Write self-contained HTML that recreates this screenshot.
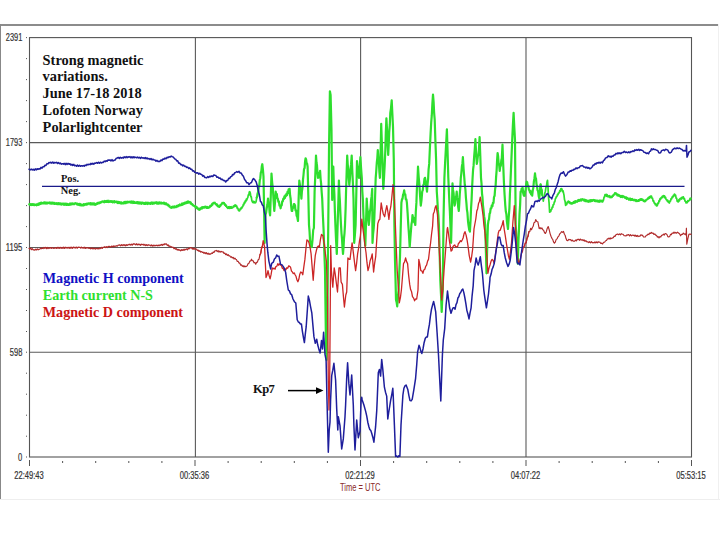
<!DOCTYPE html>
<html><head><meta charset="utf-8"><style>
html,body{margin:0;padding:0;background:#fff;}
body{width:720px;height:540px;position:relative;overflow:hidden;}
svg{position:absolute;left:0;top:0;}
.t{position:absolute;font-family:"Liberation Serif",serif;font-weight:bold;white-space:nowrap;}
</style></head><body>
<svg width="720" height="540" viewBox="0 0 720 540">
<rect x="0" y="24" width="719" height="2" fill="#8c8c8c"/>
<rect x="0" y="24" width="1" height="476" fill="#888"/>
<line x1="0" y1="499.5" x2="720" y2="499.5" stroke="#eeeeee" stroke-width="1"/>
<line x1="718.5" y1="24" x2="718.5" y2="500" stroke="#f0f0f0" stroke-width="1"/>
<g stroke="#5a5a5a" stroke-width="1.1">
<line x1="195.4" y1="37.6" x2="195.4" y2="457"/><line x1="360.6" y1="37.6" x2="360.6" y2="457"/><line x1="526.0" y1="37.6" x2="526.0" y2="457"/><line x1="29.5" y1="142.6" x2="691.5" y2="142.6"/><line x1="29.5" y1="247.5" x2="691.5" y2="247.5"/><line x1="29.5" y1="352.2" x2="691.5" y2="352.2"/>
</g>
<rect x="29.5" y="37.6" width="662" height="419.4" fill="none" stroke="#555" stroke-width="1.1"/>
<g fill="#555"><rect x="26" y="58.1" width="1" height="1"/><rect x="26" y="79.1" width="1" height="1"/><rect x="26" y="100.1" width="1" height="1"/><rect x="26" y="121.1" width="1" height="1"/><rect x="26" y="163.1" width="1" height="1"/><rect x="26" y="184.1" width="1" height="1"/><rect x="26" y="205.1" width="1" height="1"/><rect x="26" y="226.1" width="1" height="1"/><rect x="26" y="268.0" width="1" height="1"/><rect x="26" y="289.0" width="1" height="1"/><rect x="26" y="310.0" width="1" height="1"/><rect x="26" y="331.0" width="1" height="1"/><rect x="26" y="372.7" width="1" height="1"/><rect x="26" y="393.7" width="1" height="1"/><rect x="26" y="414.7" width="1" height="1"/><rect x="26" y="435.7" width="1" height="1"/><rect x="26" y="37.1" width="1" height="1"/><rect x="26" y="142.1" width="1" height="1"/><rect x="26" y="247.0" width="1" height="1"/><rect x="26" y="351.7" width="1" height="1"/><rect x="26" y="456.5" width="1" height="1"/><rect x="29.0" y="460" width="1" height="6"/><rect x="62.1" y="461" width="1" height="2"/><rect x="95.2" y="461" width="1" height="2"/><rect x="128.3" y="461" width="1" height="2"/><rect x="161.4" y="461" width="1" height="2"/><rect x="194.5" y="460" width="1" height="6"/><rect x="227.6" y="461" width="1" height="2"/><rect x="260.7" y="461" width="1" height="2"/><rect x="293.8" y="461" width="1" height="2"/><rect x="326.9" y="461" width="1" height="2"/><rect x="360.0" y="460" width="1" height="6"/><rect x="393.1" y="461" width="1" height="2"/><rect x="426.2" y="461" width="1" height="2"/><rect x="459.3" y="461" width="1" height="2"/><rect x="492.4" y="461" width="1" height="2"/><rect x="525.5" y="460" width="1" height="6"/><rect x="558.6" y="461" width="1" height="2"/><rect x="591.7" y="461" width="1" height="2"/><rect x="624.8" y="461" width="1" height="2"/><rect x="657.9" y="461" width="1" height="2"/><rect x="691.0" y="460" width="1" height="6"/></g>
<g font-family="Liberation Sans, sans-serif" font-size="10" fill="#333" stroke="#333" stroke-width="0.2">
<text x="22.3" y="41.4" text-anchor="end" textLength="16.5" lengthAdjust="spacingAndGlyphs">2391</text><text x="22.3" y="146.4" text-anchor="end" textLength="16.5" lengthAdjust="spacingAndGlyphs">1793</text><text x="22.3" y="251.4" text-anchor="end" textLength="16.5" lengthAdjust="spacingAndGlyphs">1195</text><text x="22.3" y="356.4" text-anchor="end" textLength="12.5" lengthAdjust="spacingAndGlyphs">598</text><text x="22.3" y="461.4" text-anchor="end" textLength="4.2" lengthAdjust="spacingAndGlyphs">0</text>
<text x="29" y="479" text-anchor="middle" textLength="29.5" lengthAdjust="spacingAndGlyphs">22:49:43</text><text x="194.5" y="479" text-anchor="middle" textLength="29.5" lengthAdjust="spacingAndGlyphs">00:35:36</text><text x="360" y="479" text-anchor="middle" textLength="29.5" lengthAdjust="spacingAndGlyphs">02:21:29</text><text x="525.5" y="479" text-anchor="middle" textLength="29.5" lengthAdjust="spacingAndGlyphs">04:07:22</text><text x="691" y="479" text-anchor="middle" textLength="29.5" lengthAdjust="spacingAndGlyphs">05:53:15</text>
</g>
<text x="360.3" y="491" text-anchor="middle" font-family="Liberation Sans, sans-serif" font-size="10.2" fill="#8a2a2a" textLength="40.5" lengthAdjust="spacingAndGlyphs">Time = UTC</text>
<g fill="none" stroke-linejoin="round" stroke-linecap="round">
<polyline points="29.0,204.2 29.5,204.9 30.0,203.7 30.5,205.2 31.1,203.9 31.6,205.3 32.1,203.9 32.6,205.2 33.1,203.9 33.6,205.3 34.2,204.1 34.7,205.4 35.2,204.4 35.7,205.0 36.2,204.1 36.7,205.6 37.2,204.0 37.7,205.0 38.2,203.4 38.7,205.1 39.3,203.1 39.8,204.5 40.3,202.6 40.8,204.0 41.3,202.4 41.8,203.8 42.3,203.0 42.8,203.6 43.3,202.4 43.8,203.7 44.4,202.1 44.9,203.6 45.4,202.2 45.9,203.8 46.4,202.3 46.9,203.8 47.5,202.5 48.0,203.5 48.5,202.4 49.0,203.0 49.5,202.2 50.0,203.8 50.5,202.4 51.1,203.9 51.6,202.4 52.1,203.8 52.6,202.3 53.1,204.0 53.6,202.6 54.2,204.0 54.7,202.5 55.2,204.2 55.7,203.3 56.2,204.2 56.7,202.8 57.2,204.5 57.7,203.0 58.2,204.4 58.7,202.8 59.3,204.4 59.8,203.1 60.3,204.4 60.8,203.2 61.3,204.9 61.8,203.3 62.3,204.2 62.8,203.3 63.3,204.9 63.8,203.4 64.4,205.0 64.9,203.4 65.4,204.9 65.9,203.3 66.4,205.2 66.9,203.5 67.5,205.0 68.0,203.7 68.5,205.1 69.0,204.2 69.5,205.0 70.0,203.1 70.5,205.0 71.1,203.4 71.6,204.7 72.1,203.1 72.6,204.4 73.1,203.2 73.6,204.4 74.2,203.3 74.7,204.3 75.2,202.9 75.7,203.7 76.2,203.2 76.7,204.5 77.2,203.3 77.7,205.0 78.2,203.7 78.7,205.0 79.3,203.6 79.8,205.4 80.3,203.7 80.8,205.6 81.3,204.2 81.8,205.6 82.3,205.0 82.8,205.6 83.3,203.9 83.8,205.7 84.4,204.0 84.9,205.1 85.4,203.8 85.9,204.9 86.4,203.5 86.9,204.9 87.5,203.4 88.0,204.4 88.5,203.1 89.0,203.7 89.5,203.1 90.0,204.6 90.5,202.8 91.1,204.7 91.6,203.1 92.1,204.7 92.6,203.1 93.1,204.5 93.6,203.1 94.2,205.0 94.7,203.2 95.2,205.1 95.7,204.2 96.2,204.7 96.7,203.1 97.2,204.2 97.7,202.6 98.2,203.8 98.7,202.5 99.3,203.5 99.8,202.1 100.3,203.1 100.8,201.8 101.3,202.6 101.8,201.3 102.3,201.7 102.8,201.1 103.3,202.3 103.8,201.1 104.4,202.5 104.9,200.7 105.4,202.1 105.9,200.9 106.4,202.1 106.9,200.7 107.5,202.0 108.0,200.4 108.5,202.3 109.0,201.3 109.5,202.1 110.0,200.7 110.5,202.0 111.1,201.0 111.6,202.2 112.1,201.0 112.6,202.6 113.1,201.2 113.6,202.3 114.2,200.9 114.7,202.7 115.2,201.4 115.7,202.0 116.2,201.3 116.7,202.7 117.2,201.5 117.7,203.3 118.2,201.5 118.7,203.3 119.3,201.9 119.8,203.3 120.3,202.1 120.8,203.7 121.3,202.1 121.8,203.8 122.3,203.0 122.8,203.6 123.3,202.2 123.8,203.7 124.4,201.7 124.9,203.5 125.4,201.6 125.9,203.4 126.4,201.5 126.9,202.9 127.5,201.5 128.0,202.8 128.5,201.6 129.0,202.0 129.5,201.5 130.0,202.7 130.5,201.5 131.1,203.0 131.6,201.2 132.1,203.0 132.6,201.3 133.1,203.3 133.6,201.4 134.2,203.1 134.7,201.8 135.2,203.1 135.7,202.5 136.2,203.2 136.7,202.0 137.2,203.5 137.7,201.8 138.2,203.7 138.7,202.1 139.3,203.8 139.8,202.1 140.3,203.6 140.8,202.3 141.3,204.1 141.8,202.3 142.3,203.3 142.8,202.4 143.3,204.0 143.8,202.7 144.4,204.2 144.9,202.6 145.4,204.2 145.9,202.3 146.4,204.0 146.9,202.6 147.5,204.3 148.0,202.4 148.5,203.9 149.0,203.3 149.5,203.8 150.0,202.7 150.5,204.2 151.1,202.3 151.6,203.8 152.1,202.2 152.6,204.1 153.1,202.3 153.6,203.8 154.2,202.3 154.7,203.6 155.2,202.5 155.7,203.0 156.2,202.0 156.7,203.8 157.2,202.2 157.7,204.0 158.2,202.3 158.7,203.9 159.3,202.1 159.8,203.6 160.3,202.4 160.8,203.6 161.3,202.4 161.8,203.8 162.3,203.0 162.8,203.7 163.3,202.5 163.8,203.9 164.3,202.5 164.8,204.3 165.3,203.0 165.8,204.6 166.3,203.0 166.8,204.8 167.3,204.2 167.9,205.7 168.4,204.5 169.0,206.6 169.6,205.6 170.1,207.5 170.7,207.5 171.2,208.1 171.7,206.7 172.2,207.8 172.7,206.3 173.2,207.7 173.7,206.3 174.2,207.8 174.7,206.1 175.2,207.4 175.7,206.7 176.2,207.3 176.7,205.5 177.2,207.0 177.7,205.3 178.2,206.5 178.7,204.9 179.2,205.9 179.7,204.2 180.2,205.7 180.7,204.7 181.2,205.3 181.7,203.4 182.3,205.1 182.8,203.2 183.3,204.6 183.8,202.8 184.3,204.1 184.8,202.4 185.4,203.7 185.9,202.1 186.4,203.4 186.9,201.5 187.4,203.1 188.0,201.1 188.5,202.9 189.0,201.7 189.5,202.7 190.0,201.7 190.5,203.9 191.0,202.4 191.5,204.3 192.0,203.6 192.5,205.3 193.0,204.4 193.5,206.0 194.0,205.8 194.5,206.7 195.0,205.6 195.5,207.7 196.0,206.2 196.5,208.1 197.0,207.0 197.5,209.0 198.0,207.9 198.5,209.8 199.0,209.2 199.5,210.0 200.0,208.2 200.5,209.5 201.0,207.6 201.5,208.8 202.0,206.9 202.5,208.6 203.0,206.9 203.5,207.9 204.0,207.0 204.5,207.8 205.0,206.4 205.5,207.7 206.0,206.5 206.5,208.1 207.0,206.8 207.5,208.1 208.0,206.7 208.5,208.0 209.0,207.5 209.5,207.7 210.0,205.7 210.5,206.8 211.0,205.0 211.5,206.0 212.0,203.6 212.5,205.0 213.0,202.9 213.5,203.6 214.0,202.5 214.5,203.4 215.0,202.5 215.5,204.4 216.0,203.6 216.5,205.3 217.0,204.1 217.5,206.3 218.0,205.2 218.5,206.9 219.0,206.7 219.5,207.1 220.1,204.9 220.6,206.0 221.1,204.1 221.6,204.6 222.1,202.7 222.7,203.7 223.2,202.5 223.7,203.7 224.2,202.8 224.7,205.2 225.2,204.1 225.8,206.2 226.3,205.3 226.8,207.4 227.3,207.5 227.8,208.4 228.3,206.8 228.8,208.2 229.3,206.7 229.8,208.5 230.3,206.9 230.8,208.1 231.3,206.7 231.8,208.1 232.3,207.5 232.9,207.6 233.4,206.1 234.0,206.8 234.6,205.2 235.1,206.1 235.7,205.0 236.2,206.6 236.8,206.1 237.3,208.5 237.9,208.1 238.4,210.4 239.0,210.8 239.6,210.8 240.1,208.9 240.7,209.4 241.2,207.6 241.8,208.2 242.3,206.7 242.8,206.6 243.3,204.4 243.8,204.9 244.3,202.4 244.8,203.1 245.3,200.8 245.8,201.5 246.3,199.2 246.8,200.1 247.3,198.3 247.8,197.7 248.3,194.9 248.8,195.2 249.3,192.0 249.8,191.7 250.3,193.0 250.8,196.6 251.3,196.8 251.8,200.5 252.3,201.7 252.9,202.5 253.4,201.3 254.0,202.6 254.6,201.7 255.1,202.9 255.7,202.5 256.2,201.2 256.7,197.6 257.2,196.6 257.7,193.3 258.2,191.7 258.7,186.3 259.3,185.4" stroke="#2ede2e" stroke-width="1.7"/>
<polyline points="256.7,197.6 257.2,196.6 257.7,193.3 258.2,191.7 258.7,186.3 259.3,185.4 259.8,180.0 260.3,178.2 260.8,172.7 261.3,171.5 261.8,166.3 262.3,164.2 262.9,169.3 263.5,176.7 264.1,208.9 264.6,243.0 265.5,215.0 266.1,212.8 266.7,208.3 267.4,204.5 268.0,198.6 268.5,204.3 269.1,205.4 269.6,212.4 270.1,215.3 270.8,195.4 271.5,173.6 272.2,182.8 272.9,188.9 273.6,201.0 274.3,211.0 275.0,202.4 275.7,191.7 276.2,194.2 276.8,194.0 277.3,198.1 277.8,198.6 278.4,201.7 278.9,201.5 279.5,205.6 280.0,205.6 280.6,208.3 281.1,205.3 281.7,205.3 282.2,201.4 282.8,201.4 283.3,198.6 283.9,198.9 284.4,196.4 285.0,197.9 285.5,195.1 286.1,195.8 286.6,193.6 287.1,195.2 287.6,191.5 288.1,193.2 288.6,189.4 289.1,191.0 289.6,188.9 290.1,195.5 290.6,198.4 291.2,206.4 291.7,211.0 292.2,211.0 292.8,207.0 293.3,207.8 293.9,204.1 294.4,204.2 295.0,205.2 295.5,210.5 296.1,210.3 296.6,215.6 297.2,216.7 298.0,221.0 298.6,199.9 299.3,180.6 299.8,183.9 300.4,190.8 300.9,192.6 301.4,198.6 301.9,191.3 302.4,188.3 303.0,179.6 303.5,175.0 304.0,169.3 304.6,168.0 305.1,161.1 305.6,158.3 306.1,159.4 306.6,163.3 307.1,163.7 307.6,166.7 308.3,194.8 309.0,225.0 309.5,230.8 310.0,239.8 310.5,245.0 311.1,247.2 311.8,247.0 312.5,239.8 313.2,230.0 313.9,228.0 314.6,191.7 315.3,175.0 316.0,155.6 316.5,162.5 317.0,165.5 317.5,173.1 318.0,177.8 318.5,177.5 319.1,172.9 319.6,173.8 320.1,170.8 320.6,179.0 321.1,183.4 321.7,192.5 322.2,198.6 322.9,215.7 323.6,230.0 324.3,251.0 325.0,270.0 325.8,330.0 326.5,360.0 327.3,330.0 328.0,250.0 328.5,200.9 329.0,150.0 329.9,91.3 330.6,95.0 331.5,130.0 332.2,200.0 332.8,184.4 333.3,166.7 333.8,182.7 334.4,194.9 334.9,211.8 335.4,225.0 336.1,241.0 336.8,253.9 337.3,236.8 337.9,216.1 338.4,200.1 338.9,180.6 339.4,193.0 339.9,201.4 340.5,215.2 341.0,225.0 341.5,233.5 342.0,238.6 342.5,247.6 343.0,253.9 343.5,247.7 344.0,238.1 344.5,233.3 345.0,225.0 345.6,208.9 346.1,189.5 346.6,173.8 347.2,155.6 347.7,164.0 348.2,169.0 348.8,179.0 349.3,185.0 349.9,179.0 350.5,169.3 351.1,164.2 351.7,155.6 352.3,171.1 352.9,183.1 353.5,198.6 354.2,242.8 354.9,234.8 355.6,225.0 356.3,194.5 357.0,161.0 357.5,166.2 358.0,167.8 358.5,175.1 359.0,177.8 359.7,168.2 360.4,157.0 361.1,168.6 361.8,177.8 362.3,191.1 362.9,199.8 363.4,214.4 363.9,225.0 364.6,236.3 365.3,245.6 366.0,223.1 366.7,198.6 367.2,206.8 367.7,210.8 368.2,219.7 368.8,225.0 369.3,219.9 369.9,211.7 370.5,208.5 371.1,200.0 371.6,196.4 372.2,188.9 372.5,243.0 373.1,233.8 373.7,228.5 374.3,219.0 375.0,199.8 375.7,177.8 376.2,171.8 376.8,162.4 377.3,158.1 377.8,150.0 378.3,157.8 378.9,163.1 379.4,172.0 379.9,177.8 380.6,152.0 381.2,123.9 381.8,141.2 382.3,155.5 382.8,173.7 383.3,188.9 384.0,178.0 384.7,165.0 385.3,150.9 385.8,133.1 386.4,118.3 387.0,129.1 387.6,144.2 388.2,155.0 388.7,145.3 389.2,132.4 389.8,124.7 390.3,112.8 391.0,108.1 391.7,100.3 392.4,114.5 393.0,126.7 393.8,160.0 394.4,225.0 395.0,260.0 395.5,278.9 396.0,300.0 396.6,302.1 397.2,306.4 397.9,296.6 398.6,290.0 399.3,272.1 400.0,256.7 400.7,228.7 401.4,202.8 402.0,199.2 402.5,198.8 403.1,194.5 403.6,193.7 404.2,190.3 404.7,194.3 405.3,194.3 405.8,199.3 406.4,199.3 406.9,202.8 407.6,212.9 408.3,225.0 409.0,234.8 409.7,247.0 410.4,237.5 411.0,230.0 411.5,223.9 412.0,221.6 412.5,215.0 413.1,218.5 413.6,217.6 414.2,222.3 414.7,221.5 415.3,225.0 415.8,211.8 416.4,202.9 416.9,188.6 417.5,179.2 418.0,166.7 418.7,177.1 419.4,184.7 420.1,196.3 420.8,205.6 421.5,200.1 422.2,191.7 422.8,190.2 423.3,185.1 423.9,184.2 424.4,179.0 425.0,177.8 425.5,180.4 426.0,185.9 426.5,187.2 427.0,191.7 427.6,183.7 428.1,179.2 428.6,169.3 429.2,163.9 429.9,147.7 430.6,133.6 431.2,122.6 431.8,115.2 432.4,103.2 433.0,94.7 433.6,101.9 434.1,112.3 434.7,119.7 435.4,140.8 436.1,160.0 436.8,191.7 437.3,199.1 437.9,209.9 438.4,215.5 438.9,225.0 439.6,251.5 440.3,280.0 441.0,294.5 441.7,312.0 442.2,299.4 442.8,290.0 443.5,220.0 444.4,177.8 445.1,162.7 445.8,150.0 446.4,138.8 446.9,129.4 447.6,152.6 448.3,177.8 448.8,188.7 449.4,202.5 449.9,212.3 450.4,225.0 451.1,242.8 451.8,214.0 452.5,183.3 453.0,189.9 453.6,193.2 454.1,201.5 454.6,205.6 455.1,203.5 455.6,197.5 456.2,196.3 456.7,191.7 457.2,197.7 457.7,200.2 458.2,207.2 458.8,211.0 459.3,203.5 459.8,193.4 460.3,187.7 460.8,177.8 461.3,173.6 461.9,166.3 462.4,163.7 462.9,157.2 463.6,169.0 464.3,177.8 464.8,185.0 465.4,189.3 465.9,197.5 466.4,202.8 466.9,209.5 467.4,212.7 468.0,221.0 468.5,225.0 469.2,229.8 469.9,231.7 470.6,219.4 471.1,207.5 471.6,199.4 472.1,187.4 472.6,177.8 473.1,169.5 473.6,165.4 474.2,155.8 474.7,150.0 475.4,139.2 476.1,152.8 476.8,163.9 477.3,161.2 477.9,155.8 478.4,155.0 478.9,150.0 479.6,137.1 480.3,156.0 481.0,177.8 481.5,183.3 482.0,193.3 482.5,197.7 483.0,205.6 483.5,209.6 484.1,216.2 484.6,218.9 485.1,225.0 485.8,247.8 486.5,273.3 487.2,247.6 487.9,225.0 488.5,220.3 489.0,219.6 489.6,213.6 490.1,212.8 490.7,208.3 491.3,208.4 491.8,205.3 492.4,206.4 492.9,202.9 493.5,202.8 494.0,197.1 494.6,195.8 495.1,189.2 495.6,186.1 496.1,176.9 496.6,170.6 497.1,160.0 497.6,153.0 498.1,156.1 498.6,162.8 499.2,165.5 499.7,170.8 500.2,166.5 500.8,165.8 501.3,160.3 501.8,158.3 502.5,144.7 503.2,164.3 503.9,181.9 504.6,195.0 505.3,205.6 505.8,211.3 506.4,214.3 506.9,221.3 507.4,225.0 508.0,229.0 508.7,217.1 509.4,208.3 509.9,194.2 510.4,184.2 511.0,168.6 511.5,157.0 512.2,140.0 512.9,125.0 513.6,112.8 514.3,127.4 515.0,140.0 515.7,225.0 516.2,233.1 516.8,245.7 517.3,252.9 517.8,263.6 518.5,240.0 519.0,228.7 519.5,214.7 520.1,205.1 520.6,191.7 521.1,191.8 521.6,188.6 522.1,189.9 522.6,187.5 523.2,193.1 523.9,195.6 524.7,195.8 525.2,191.3 525.7,189.6 526.2,184.2 526.7,181.7 527.2,182.2 527.8,186.4 528.3,185.7 528.9,189.8 529.4,190.0 530.0,192.5 530.5,191.0 531.1,194.3 531.6,192.9 532.2,195.6 532.8,190.1 533.3,188.1 533.9,181.2 534.4,178.7 535.0,173.3 535.5,177.8 536.0,178.5 536.5,184.2 537.0,185.8 537.5,190.1 538.1,191.1 538.7,196.2 539.2,198.3 539.9,192.5 540.6,184.4 541.1,188.6 541.7,190.1 542.2,195.0" stroke="#2ede2e" stroke-width="2.2"/>
<polyline points="539.9,192.5 540.6,184.4 541.1,188.6 541.7,190.1 542.2,195.0 542.8,197.1 543.3,201.1 543.8,197.9 544.3,196.9 544.9,192.7 545.4,191.2 545.9,187.6 546.5,186.2 547.0,182.0 547.5,180.3 548.0,187.3 548.5,197.1 549.1,203.2 549.6,212.2 550.1,210.5 550.7,211.5 551.2,209.5 551.7,209.4 552.2,207.0 552.7,207.5 553.2,204.7 553.8,204.7 554.3,201.8 554.8,201.8 555.3,199.0 555.8,198.3 556.4,196.6 556.9,196.6 557.5,194.4 558.0,194.6 558.6,192.8 559.2,192.9 559.7,190.6 560.3,191.3 560.8,188.8 561.4,188.6 561.9,189.0 562.5,191.6 563.0,190.8 563.5,192.8 564.0,195.2 564.5,199.6 565.1,201.4 565.6,205.3 566.1,203.8 566.7,204.6 567.2,202.2 567.8,202.6 568.3,201.1 568.9,202.6 569.4,201.7 570.0,203.5 570.5,202.4 571.1,203.9 571.6,202.8 572.1,203.9 572.6,202.6 573.1,203.4 573.6,201.7 574.2,203.0 574.7,201.2 575.2,202.8 575.7,200.9 576.2,202.0 576.7,201.1 577.2,202.0 577.7,200.0 578.2,201.3 578.7,199.7 579.2,201.1 579.7,199.7 580.2,200.7 580.7,199.2 581.2,200.9 581.7,199.0 582.2,199.7 582.7,198.9 583.2,200.5 583.7,199.5 584.2,200.9 584.7,199.4 585.3,201.4 585.8,199.9 586.3,201.3 586.8,200.1 587.3,201.7 587.8,201.1 588.3,202.0 588.8,200.4 589.3,201.8 589.8,200.0 590.3,201.7 590.8,199.8 591.3,201.5 591.8,199.9 592.3,201.2 592.8,199.8 593.3,200.4 593.8,199.6 594.3,201.1 594.8,200.0 595.3,201.5 595.8,200.1 596.4,201.3 596.9,200.3 597.4,201.7 597.9,200.3 598.4,202.0 598.9,201.1 599.4,202.0 599.9,200.1 600.4,201.7 601.0,200.6 601.5,201.6 602.0,200.4 602.5,202.0 603.0,201.1 603.5,200.2 604.0,197.3 604.5,197.0 605.0,194.7 605.5,195.7 606.1,194.3 606.6,196.3 607.2,194.7 607.8,196.7 608.3,196.1 608.9,196.9 609.4,195.7 610.0,197.6 610.5,196.4 611.1,197.5 611.6,196.3 612.1,197.3 612.7,195.3 613.2,196.0 613.7,194.3 614.2,194.9 614.8,192.9 615.3,193.3 615.8,192.9 616.3,194.7 616.8,193.7 617.3,195.7 617.9,194.3 618.4,196.0 618.9,194.8 619.4,196.1 619.9,195.4 620.5,197.3 621.0,195.8 621.5,197.2 622.0,195.6 622.5,197.5 623.1,195.8 623.6,196.8 624.1,196.5 624.6,198.0 625.2,197.0 625.7,198.4 626.2,197.1 626.8,199.2 627.3,197.7 627.8,198.9 628.3,198.3 628.8,200.0 629.3,198.4 629.8,199.8 630.3,198.3 630.8,200.3 631.3,198.8 631.8,200.2 632.3,198.7 632.8,200.1 633.3,199.6 633.8,200.5 634.3,199.4 634.9,200.7 635.4,199.7 635.9,201.3 636.5,199.8 637.0,201.4 637.5,201.0 638.0,201.2 638.5,199.8 639.1,201.1 639.6,199.4 640.1,200.3 640.7,198.8 641.2,200.1 641.7,198.9 642.2,200.2 642.8,199.5 643.3,201.1 643.9,200.4 644.4,201.7 645.0,200.4 645.5,201.4 646.1,199.5 646.6,200.0 647.2,198.9 647.7,199.4 648.2,197.5 648.8,198.5 649.3,196.8 649.8,198.1 650.4,196.1 650.9,197.2 651.4,196.1 652.0,198.2 652.5,198.2 653.1,201.2 653.6,200.6 654.2,203.0 654.7,202.9 655.3,204.7 655.8,203.8 656.4,205.8 656.9,205.8 657.4,205.3 658.0,202.8 658.5,203.4 659.0,200.7 659.5,201.3 660.0,198.6 660.6,199.3 661.1,197.5 661.7,197.8 662.2,196.4 662.8,197.4 663.3,195.6 663.9,196.1 664.5,195.8 665.0,198.0 665.6,197.4 666.1,199.6 666.7,199.6 667.2,201.0 667.8,200.4 668.3,202.3 668.9,201.6 669.4,203.0 670.0,200.8 670.5,201.1 671.1,198.5 671.6,198.9 672.2,196.8 672.8,197.4 673.3,195.4 673.9,196.1 674.4,194.1 675.0,194.7 675.6,195.1 676.1,198.2 676.7,198.4 677.2,201.3 677.8,201.7 678.4,201.8 678.9,199.6 679.5,200.8 680.0,198.5 680.6,198.9 681.1,197.9 681.7,199.0 682.2,197.0 682.8,197.9 683.3,196.8 683.9,199.0 684.4,198.4 685.0,201.1 685.5,201.2 686.1,203.0 686.7,201.8 687.2,202.7 687.8,200.7 688.3,201.4 688.9,200.3 689.4,200.4 690.0,198.4 690.5,199.7 691.0,198.2" stroke="#2ede2e" stroke-width="1.7"/>
<polyline points="29.0,248.3 29.8,249.0 30.7,248.2 31.5,249.7 32.3,248.7 33.2,250.0 34.0,249.7 34.8,250.2 35.7,249.1 36.5,250.0 37.3,248.8 38.2,249.9 39.0,249.2 39.8,249.3 40.6,248.1 41.5,248.7 42.3,248.0 43.1,248.6 44.0,247.4 44.8,248.4 45.6,247.3 46.5,248.7 47.3,247.4 48.1,248.6 49.0,247.6 49.8,248.4 50.7,247.5 51.5,248.4 52.3,247.6 53.2,248.4 54.0,248.0 54.8,248.3 55.6,247.5 56.4,248.5 57.2,247.3 58.0,248.5 58.8,247.3 59.6,248.4 60.5,247.3 61.3,248.4 62.1,247.4 62.9,248.5 63.7,247.1 64.5,248.4 65.3,247.2 66.1,248.2 66.9,247.3 67.7,248.2 68.5,247.3 69.3,248.3 70.1,247.2 70.9,248.3 71.7,247.2 72.5,248.3 73.4,247.0 74.2,247.9 75.0,247.2 75.8,248.2 76.6,247.0 77.4,248.2 78.2,247.0 79.0,247.5 79.8,247.2 80.7,248.2 81.5,247.0 82.3,248.1 83.2,247.4 84.0,248.3 84.8,247.2 85.6,248.5 86.5,247.6 87.3,248.0 88.1,247.6 89.0,248.5 89.8,247.8 90.6,248.9 91.5,247.9 92.3,248.9 93.1,248.0 94.0,249.0 94.8,248.0 95.6,249.1 96.5,248.2 97.3,248.8 98.1,248.2 99.0,249.0 99.8,247.9 100.7,248.6 101.5,247.3 102.3,248.5 103.2,247.2 104.0,247.5 104.8,246.7 105.7,247.7 106.5,246.6 107.3,247.6 108.2,246.3 109.0,246.7 109.8,246.3 110.7,247.3 111.5,246.1 112.3,246.9 113.2,245.8 114.0,246.9 114.9,245.9 115.7,246.3 116.5,245.7 117.3,246.2 118.2,245.0 119.0,245.3 119.8,244.8 120.7,245.8 121.5,244.7 122.3,245.7 123.2,244.5 124.0,245.7 124.8,244.6 125.7,245.8 126.5,244.7 127.3,245.5 128.2,244.4 129.0,245.0 129.8,244.2 130.7,245.2 131.5,244.2 132.3,245.1 133.2,243.7 134.0,244.2 134.8,243.8 135.7,245.0 136.5,243.7 137.3,245.0 138.2,244.0 139.0,244.9 139.8,244.2 140.6,245.3 141.5,244.2 142.3,244.7 143.1,244.2 144.0,245.3 144.8,244.3 145.7,245.6 146.5,244.6 147.3,245.6 148.2,244.6 149.0,245.3 149.8,245.0 150.7,245.9 151.5,244.9 152.3,246.2 153.2,245.0 154.0,246.1 154.9,245.1 155.7,245.8 156.5,245.2 157.4,245.9 158.2,245.0 159.0,245.8 159.9,244.8 160.7,245.4 161.5,244.4 162.4,245.3 163.2,244.2 164.0,244.9 164.9,243.7 165.7,244.2 166.5,243.9 167.3,245.6 168.2,244.8 169.0,246.4 169.8,245.9 170.7,247.0 171.5,246.7 172.3,247.5 173.1,247.2 174.0,248.8 174.8,247.9 175.7,249.3 176.5,248.7 177.3,250.1 178.2,249.3 179.0,250.3 179.8,249.8 180.7,250.8 181.5,249.7 182.3,250.5 183.2,249.3 184.0,250.5 184.9,249.2 185.7,249.7 186.5,248.8 187.4,249.8 188.2,248.2 189.0,249.0 189.9,247.7 190.7,248.0 191.5,247.5 192.4,249.1 193.2,248.1 194.0,249.4 194.9,248.3 195.7,249.2 196.5,249.1 197.3,250.6 198.2,250.0 199.0,251.4 199.8,250.7 200.7,252.1 201.5,251.5 202.3,252.5 203.1,252.0 204.0,253.5 204.8,252.4 205.7,253.7 206.5,252.7 207.3,254.1 208.2,253.2 209.0,254.5 209.9,253.7 210.7,254.2 211.5,253.0 212.4,253.4 213.2,251.9 214.0,252.5 214.9,250.9 215.7,250.8 216.5,250.4 217.3,251.6 218.2,250.7 219.0,252.1 219.8,251.1 220.7,252.1 221.5,251.4 222.3,252.0 223.1,251.9 224.0,253.4 224.8,253.0 225.7,254.6 226.5,253.8 227.3,255.4 228.2,254.7 229.0,255.8 229.8,255.8 230.7,257.2 231.5,256.7 232.3,258.0 233.2,257.3 234.0,259.0 234.9,258.1 235.7,259.2 236.5,259.6 237.3,261.5 238.2,261.4 239.0,263.1 239.8,263.1 240.7,265.2 241.5,264.8 242.3,266.3 243.1,265.7 244.0,267.0 244.8,265.9 245.7,266.7 246.5,266.3 247.3,265.6 248.2,263.5 249.0,263.2 249.8,261.1 250.7,261.0 251.5,259.2 252.3,260.7 253.2,260.7 254.0,262.8 254.9,262.5 255.7,264.2 256.5,262.4 257.4,262.1 258.2,259.8 259.0,259.2 259.9,255.1 260.7,253.3 261.5,248.5 262.4,245.9" stroke="#b02a2a" stroke-width="1.15"/>
<polyline points="259.9,255.1 260.7,253.3 261.5,248.5 262.4,245.9 263.2,240.7 264.6,247.0 266.0,277.5 267.0,275.0 268.0,270.6 269.1,275.5 270.1,278.9 271.1,274.4 272.2,267.8 273.1,268.9 274.1,268.1 275.0,269.2 275.9,266.5 276.9,266.1 277.8,263.6 278.7,265.2 279.7,263.8 280.6,265.0 281.5,265.7 282.3,268.4 283.1,268.2 284.0,270.6 284.9,268.8 285.9,269.7 286.8,267.8 287.7,268.3 288.7,265.8 289.6,266.4 290.5,267.1 291.5,271.1 292.4,272.0 293.3,273.6 294.2,272.9 295.1,274.7 296.0,276.3 297.0,280.0 297.9,281.7 298.8,279.3 299.8,274.2 300.7,272.0 301.8,272.6 302.8,274.7 303.9,266.3 304.9,259.4 305.9,248.9 306.9,240.0 307.9,240.4 309.0,242.8 310.1,247.4 311.1,253.9 312.1,266.1 313.2,280.3 314.2,266.7 315.3,255.3 316.4,250.3 317.4,247.0 318.4,245.9 319.4,247.0 320.4,239.6 321.5,234.4 322.9,235.8 323.7,241.1 324.5,245.0 325.5,254.7 326.5,262.0 327.5,300.0 328.3,380.0 329.0,410.0 329.7,380.0 330.3,300.0 330.7,245.6 331.4,270.6 332.8,287.2 334.2,267.8 335.2,273.9 336.2,282.0 337.5,292.0 339.0,267.8 340.3,267.8 341.1,282.0 342.4,284.4 343.4,296.4 344.4,307.0 345.8,295.0 346.7,292.0 347.9,258.0 349.4,259.4 350.0,259.4 351.1,250.2 352.1,242.8 353.5,253.9 354.6,263.2 355.6,270.6 356.6,263.4 357.6,253.9 358.5,248.7 359.5,240.9 360.4,235.8 361.8,219.2 362.9,228.6 363.9,235.8 364.9,245.2 366.0,252.5 367.0,262.7 368.0,270.6 369.1,266.6 370.1,260.8 371.1,258.3 372.2,253.9 373.6,272.0 374.6,263.6 375.7,256.7 376.8,239.1 377.8,223.6 378.9,220.3 379.9,219.2 381.2,202.8 382.3,209.4 383.3,214.0 384.7,216.7 385.8,210.1 386.8,205.6 387.9,211.8 388.9,219.4 389.8,211.3 390.8,206.7 391.7,198.6 393.0,184.7 394.4,198.6 395.8,235.8 397.2,270.6 398.6,290.0 399.3,302.9 400.4,297.6 401.4,290.0 402.4,277.7 403.5,263.6 404.6,261.9 405.6,258.0 406.6,261.6 407.6,263.6 408.6,275.1 409.7,284.4 410.6,289.6 411.6,291.8 412.5,296.7 413.6,298.1 414.6,300.8 415.6,299.0 416.7,299.0 418.0,290.0 418.8,259.4 419.8,264.1 420.8,270.6 421.9,270.9 422.9,273.3 423.8,270.1 424.8,269.3 425.7,266.4 426.6,265.2 427.6,261.1 428.5,259.4 429.6,250.0 430.6,242.8 431.6,233.7 432.6,226.1 433.3,213.9 434.2,211.9 435.2,207.3 436.1,205.6 437.5,215.0 438.9,242.8 440.3,270.0 441.7,300.0 442.8,290.0 444.0,270.6 445.1,256.7 446.1,243.5 447.2,228.9 447.6,227.5 448.6,234.5 449.7,242.8 451.1,251.1 452.0,250.2 453.0,246.4 453.9,245.6 454.8,244.9 455.8,247.3 456.7,246.7 457.6,246.6 458.5,243.2 459.4,242.8 460.3,240.7 461.3,241.6 462.2,240.0 463.1,238.0 464.1,233.6 465.0,231.7 466.1,235.1 467.1,240.0 468.1,246.6 469.2,255.3 470.6,262.2 471.6,256.9 472.6,249.7 474.0,228.9 474.7,225.0 475.8,219.0 476.8,211.1 477.7,208.7 478.6,203.2 479.4,201.5 480.3,197.2 481.7,205.6 483.0,215.0 483.9,225.1 484.9,232.4 485.8,242.8 486.9,256.9 487.9,273.3 488.9,268.4 490.0,265.0 491.1,261.1 492.1,259.4 493.1,260.3 494.2,263.6 495.2,255.7 496.2,249.7 497.3,240.4 498.3,233.0 499.2,230.4 500.2,230.3 501.1,227.5 502.1,225.0 503.2,220.6 504.2,229.2 505.3,235.8 506.4,243.4 507.4,249.7 508.4,255.7 509.4,259.4 510.4,252.0 511.5,242.8 512.9,222.0 514.3,205.6 515.7,230.0 517.1,256.7 518.2,261.0 519.2,263.6 520.6,258.0 521.5,253.3 522.4,251.6 523.3,247.0 524.2,246.5 525.2,243.2 526.1,242.8 527.0,238.5 528.0,236.3 528.9,231.7" stroke="#cc2626" stroke-width="1.3"/>
<polyline points="525.2,243.2 526.1,242.8 527.0,238.5 528.0,236.3 528.9,231.7 529.8,231.5 530.6,228.4 531.5,229.7 532.4,227.5 533.2,226.3 534.0,222.7 534.9,222.3 535.7,219.6 536.8,221.5 537.8,221.7 539.2,228.6 540.1,227.7 541.0,228.8 541.9,227.9 542.8,229.8 543.6,230.2 544.5,232.5 545.4,233.5 546.3,231.7 547.3,228.2 548.2,226.5 549.1,229.4 550.1,233.6 551.0,236.2 551.9,238.3 552.7,239.3 553.5,241.9 554.4,243.2 555.3,242.2 556.1,239.6 557.0,238.9 557.9,236.9 558.8,236.1 559.8,233.8 560.7,232.8 561.6,231.7 562.6,232.3 563.5,231.4 564.4,234.2 565.2,235.5 566.0,238.6 566.9,240.4 567.8,240.7 568.8,239.4 569.7,239.7 570.5,239.5 571.4,240.8 572.2,240.0 573.1,241.2 573.9,241.1 574.7,241.2 575.5,240.0 576.4,240.8 577.2,239.4 578.0,239.7 578.8,239.1 579.7,240.3 580.5,239.1 581.4,240.1 582.2,239.7 583.1,240.7 584.1,239.8 585.0,241.4 585.9,240.6 586.9,241.9 587.8,241.8 588.7,242.6 589.6,241.6 590.5,242.8 591.5,241.6 592.4,242.8 593.3,242.5 594.1,242.9 594.9,241.8 595.7,242.8 596.5,241.9 597.3,242.9 598.1,241.7 598.9,242.2 599.8,242.0 600.8,243.5 601.7,243.1 602.6,244.0 603.6,242.3 604.6,242.2 605.6,240.7 606.5,240.5 607.4,238.9 608.3,238.9 609.1,238.0 610.0,239.2 610.8,237.9 611.7,238.6 612.5,237.9 613.3,237.8 614.2,236.0 615.0,236.4 615.9,234.7 616.7,234.4 617.6,234.0 618.5,234.7 619.5,233.9 620.4,234.8 621.3,233.7 622.2,234.2 623.1,234.2 624.1,235.7 625.0,235.8 625.9,236.0 626.9,234.9 627.8,235.1 628.7,234.5 629.6,236.0 630.5,234.7 631.5,235.8 632.4,235.1 633.3,235.6 634.1,235.0 634.9,236.3 635.7,235.2 636.5,236.4 637.3,235.4 638.1,236.6 638.9,236.1 639.8,236.3 640.8,234.9 641.7,235.1 642.6,235.4 643.5,237.0 644.4,237.0 645.3,237.0 646.3,235.3 647.2,235.1 648.0,234.1 648.9,234.6 649.7,233.0 650.6,233.4 651.4,232.4 652.2,233.3 653.1,233.0 653.9,234.4 654.8,233.9 655.6,235.1 656.5,235.2 657.3,237.1 658.1,236.5 659.0,237.9 659.9,236.6 660.8,237.0 661.6,235.2 662.5,235.1 663.4,234.2 664.2,235.1 665.1,233.5 666.0,233.8 666.9,234.4 667.8,236.6 668.8,237.0 669.6,236.6 670.5,234.4 671.3,234.6 672.2,233.0 673.1,233.3 674.0,232.0 674.8,233.2 675.7,232.4 676.6,233.2 677.6,232.2 678.5,233.0 679.5,233.8 680.6,235.8 681.5,234.4 682.4,234.5 683.3,233.0 684.2,234.1 685.2,233.9 686.1,235.1 686.4,228.2 686.8,244.2 687.8,238.8 688.9,234.4 690.0,234.0 691.0,234.4" stroke="#b02a2a" stroke-width="1.15"/>
<polyline points="29.0,169.2 30.1,170.0 31.2,169.1 32.3,170.0 33.3,169.2 34.2,170.3 35.2,168.8 36.1,169.9 37.1,168.7 38.0,169.4 39.0,168.7 40.0,169.0 41.0,167.3 42.0,168.2 43.0,166.7 44.0,166.7 45.0,165.3 46.0,165.5 47.0,163.6 48.0,163.9 49.0,162.5 50.0,162.9 50.9,162.2 51.9,163.1 52.8,162.0 53.8,163.3 54.7,162.4 55.7,162.8 56.6,162.3 57.6,163.5 58.5,162.6 59.5,163.7 60.4,163.1 61.4,164.2 62.3,163.7 63.3,164.2 64.2,163.4 65.2,164.6 66.1,163.3 67.1,164.5 68.0,163.4 69.0,164.2 70.0,163.8 70.9,165.1 71.9,164.2 72.8,165.5 73.8,164.4 74.7,165.8 75.7,165.3 76.6,166.1 77.6,165.1 78.5,166.2 79.5,165.4 80.4,166.3 81.4,165.7 82.3,166.2 83.3,165.5 84.2,166.2 85.2,165.0 86.1,165.6 87.1,164.3 88.0,164.9 89.0,164.2 90.0,164.7 90.9,163.4 91.9,164.3 92.8,163.2 93.8,164.2 94.7,163.1 95.7,163.3 96.6,162.5 97.6,163.3 98.5,162.2 99.5,163.3 100.4,162.2 101.4,163.0 102.3,162.2 103.3,162.4 104.2,161.1 105.2,161.7 106.1,160.7 107.1,161.3 108.0,159.9 109.0,160.3 110.0,159.9 111.0,160.9 112.0,159.6 113.0,161.0 114.0,160.3 115.1,160.0 116.2,158.3 117.3,158.0 118.3,157.4 119.3,158.4 120.3,157.3 121.3,158.2 122.3,157.5 123.3,158.1 124.2,156.8 125.2,157.7 126.1,156.6 127.1,157.7 128.0,156.8 129.0,157.2 130.0,156.6 130.9,157.9 131.9,156.7 132.8,157.9 133.8,156.7 134.7,157.7 135.7,157.2 136.6,157.8 137.6,157.0 138.5,157.9 139.5,157.3 140.4,158.4 141.4,157.2 142.3,158.0 143.3,157.7 144.2,158.5 145.2,157.5 146.1,158.8 147.1,157.9 148.0,158.9 149.0,158.5 150.0,159.4 151.0,158.5 152.0,159.9 153.0,159.2 154.0,160.0 155.0,159.9 156.0,161.2 157.0,160.4 158.0,161.5 159.0,161.2 160.0,161.4 161.0,160.0 162.0,160.6 163.0,158.9 164.0,159.2 165.0,158.1 166.0,158.8 167.0,157.3 168.0,157.7 169.0,156.7 170.1,157.1 171.2,156.1 172.3,156.7 173.4,157.1 174.6,158.9 175.7,159.2 176.7,161.0 177.7,160.8 178.7,163.2 179.7,163.1 180.7,164.7 181.7,164.5 182.7,165.9 183.7,165.1 184.7,166.4 185.7,166.3 186.7,167.4 187.7,167.1 188.7,168.5 189.7,167.9 190.7,169.2 191.7,169.2 192.7,171.1 193.7,170.7 194.7,172.3 195.7,172.5 196.7,173.2 197.7,172.7 198.7,174.1 199.7,173.2 200.7,174.2 201.7,174.4 202.7,176.1 203.7,175.6 204.7,177.4 205.7,177.5 206.7,177.9 207.7,176.6 208.7,177.5 209.7,176.3 210.7,176.7 211.7,175.9 212.8,176.5 213.8,175.0 214.8,175.3 215.9,175.5 216.9,177.3 217.9,176.9 219.0,178.3 220.1,178.0 221.2,179.5 222.3,179.2 223.4,180.5 224.6,180.5 225.7,182.0 226.7,180.5 227.7,180.5 228.7,178.3 229.7,178.4 230.7,176.7 231.7,176.4 232.7,174.4 233.7,174.7 234.7,172.8 235.7,172.5 236.8,171.5 237.9,172.3 239.0,171.3 240.1,173.0 241.2,173.1 242.3,175.0 243.4,176.3 244.6,179.5 245.7,180.8 246.8,182.8 247.9,182.7 249.0,184.7 250.2,183.1 251.5,182.5 252.5,180.0 253.5,178.5 254.8,179.8 256.2,182.0 257.2,185.5 258.3,190.3 259.4,195.0 260.4,201.4 261.3,202.1 262.3,205.0 263.2,205.6 264.2,211.2 265.3,215.3 266.1,230.0 267.0,243.3 267.8,252.2 268.9,261.1 270.6,268.9 271.7,263.3 273.3,262.2 274.4,259.0 275.6,257.9 276.7,255.0 277.8,256.4 278.9,256.1 280.6,264.4 282.0,264.8 283.3,266.7 284.5,268.7 285.6,272.2 286.8,281.0 288.3,290.0 289.4,290.9 290.6,293.9 291.7,294.7 293.0,299.0 294.4,301.7 295.8,303.0 297.2,319.7 298.2,321.8 299.3,322.5 300.4,324.0 301.4,323.9 302.4,331.3 303.5,337.8 304.4,342.6 305.3,334.1 306.2,326.7 307.3,310.8 308.3,296.1 309.4,300.2 310.4,305.8 311.8,312.8 312.9,325.1 313.9,336.4 315.3,343.3 316.7,339.2 317.7,344.8 318.8,348.9 320.1,353.0 321.5,340.6 322.5,348.9 323.6,332.2 325.0,354.4 326.1,360.0 327.0,400.0 328.3,452.2 329.2,430.0 330.0,422.2 330.6,400.0 331.7,375.6 332.8,370.2 333.9,363.3 335.6,380.0 336.7,408.9 337.8,430.0 338.3,416.7 340.0,425.6 341.7,448.9 343.3,438.9 345.0,416.7 345.6,405.0 346.7,378.3 347.6,362.8 348.9,383.9 350.0,395.0 351.7,375.0 353.3,405.0 353.9,425.6 355.0,450.0 356.7,420.0 358.3,437.8 360.0,431.1 361.1,400.0 361.7,397.2 362.2,400.0 363.9,405.0 365.6,411.1 366.7,415.8 367.8,422.2 368.9,426.7 369.8,429.5 370.8,430.6 371.7,433.3 372.8,437.2 373.9,442.2 375.6,426.7 376.7,411.1 377.2,400.0 378.3,372.8 379.4,369.4 380.6,376.1 381.7,359.4 382.8,369.4 384.4,387.2 385.5,392.2 386.7,396.1 387.8,419.0 388.7,412.5 389.6,407.0 390.6,400.6 391.7,395.0 392.8,388.3 393.2,395.0 394.4,425.0 395.6,456.4 396.7,455.9 397.8,457.1 398.8,455.8 399.9,456.4 401.0,425.0 401.9,410.7 402.9,395.0 403.9,388.3 405.0,385.9 406.1,385.0 407.8,389.4 408.9,395.6 410.0,400.6 411.1,400.9 412.2,399.4 413.9,389.4 415.6,378.3 416.7,365.0 417.6,352.2 419.0,345.3 419.9,347.6 420.9,351.4 421.8,353.5 423.0,349.0 424.1,342.7 425.3,338.3 426.4,337.1 427.4,336.9 428.4,329.8 429.4,324.4 430.4,316.2 431.5,309.2 432.6,304.9 433.6,301.5 434.6,306.0 435.7,311.9 437.1,332.8 438.5,355.0 439.6,377.5 440.8,401.0 442.4,355.0 443.3,340.0 444.7,328.6 446.1,305.0 447.5,291.1 448.6,300.1 449.6,307.8 451.0,313.3 452.1,309.9 453.1,307.8 454.1,307.8 455.1,309.2 456.0,304.6 457.0,302.6 457.9,298.0 458.8,296.8 459.8,293.5 460.7,292.5 461.8,290.0 462.8,289.0 463.9,292.9 464.9,298.0 465.9,303.8 466.9,310.6 467.9,314.0 469.0,318.9 470.1,312.6 471.1,307.8 472.1,295.8 473.2,285.6 474.0,270.6 475.1,265.2 476.1,258.0 477.1,262.2 478.2,265.0 479.2,261.5 480.3,256.7 481.4,265.9 482.4,273.3 483.8,290.0 484.3,293.9 485.4,301.3 486.4,307.8 487.4,301.4 488.5,294.0 489.9,280.0 490.0,277.5 491.1,274.1 492.1,269.2 493.1,267.1 494.2,263.6 495.2,257.2 496.2,249.7 497.3,244.2 498.3,237.2 499.7,237.2 501.1,244.2 502.1,245.8 503.2,245.6 504.2,252.4 505.3,258.0 506.6,262.8 508.0,266.4 509.1,264.2 510.1,260.8 511.2,252.4 512.2,242.8 513.6,227.5 514.7,234.3 515.7,242.8 517.1,262.2 518.0,263.8 519.0,263.2 519.9,265.0 520.9,256.5 521.9,249.7 523.3,240.0 524.3,233.8 525.4,226.1 526.5,220.6 527.5,213.9 528.5,213.2 529.4,210.8 530.5,208.9 531.7,205.6 532.7,206.8 533.6,206.7 535.0,201.4 536.4,201.1 537.3,201.7 538.3,200.2 539.2,201.1 540.5,199.2 541.9,198.3 542.8,197.4 543.8,197.9 544.7,196.9 545.6,196.2 546.6,194.1 547.5,193.5 548.9,195.6 549.8,197.2 550.8,197.4 551.7,199.0 553.0,195.3 554.4,192.8 555.3,189.4 556.3,187.6 557.2,184.4 558.1,181.7 559.1,177.5 560.0,174.7 561.2,173.0 562.3,173.3 563.5,171.7 564.5,174.3 565.6,176.1 567.0,174.4 568.3,171.9 569.2,172.1 570.2,170.8 571.1,171.2 572.0,170.1 573.0,170.4 573.9,169.2 574.9,169.4 576.0,167.9 577.0,168.7 578.0,167.8 579.2,167.7 580.3,166.0 581.5,165.7 582.7,165.6 583.8,167.1 585.0,167.1 585.9,167.9 586.9,167.1 587.8,168.3 588.7,167.5 589.7,168.8 590.6,168.5 592.0,167.2 593.3,165.0 594.2,165.1 595.2,163.5 596.1,164.0 597.0,162.7 598.0,163.2 598.9,162.2 600.1,163.1 601.2,162.0 602.4,162.9 603.5,160.7 604.5,159.9 605.6,157.9 607.0,157.5 608.3,155.8 609.2,156.8 610.2,156.2 611.1,157.2 612.0,155.9 613.0,156.4 613.9,155.1 614.9,155.0 616.0,153.3 617.0,153.9 618.0,152.8 618.9,153.6 619.9,152.8 620.8,153.8 622.0,152.5 623.1,152.6 624.3,151.4 625.5,152.5 626.6,152.0 627.8,152.8 628.8,151.9 629.8,152.8 630.9,151.5 631.9,151.7 632.9,150.8 633.9,151.5 634.8,149.8 635.8,150.4 636.8,149.6 637.8,150.3 638.8,149.3 639.7,150.5 640.7,149.7 641.7,150.3 642.8,150.6 644.0,152.3 645.1,152.4 646.3,153.5 647.4,152.9 648.6,153.8 649.5,151.7 650.5,151.2 651.4,148.9 652.3,149.8 653.3,148.8 654.2,149.6 655.5,149.6 656.9,150.3 657.8,150.6 658.8,152.8 659.7,153.0 660.6,152.8 661.6,150.6 662.5,150.3 663.5,149.8 664.6,150.6 665.7,149.3 666.7,149.6 667.8,150.2 669.0,152.5 670.1,153.0 671.3,152.2 672.4,149.9 673.6,148.9 674.8,148.1 675.9,148.8 677.1,147.8 678.3,148.6 679.4,148.0 680.6,148.9 682.0,149.5 683.3,151.0 684.2,150.4 685.2,151.1 686.1,150.3 686.5,145.4 687.0,157.2 688.0,155.0 688.9,152.0 690.0,151.5 691.0,150.3" stroke="#1e1e9c" stroke-width="1.5"/>
</g>
<line x1="42" y1="186.3" x2="684.5" y2="186.3" stroke="#1a1a8a" stroke-width="1.3"/>
<line x1="288" y1="390.6" x2="317" y2="390.6" stroke="#000" stroke-width="1.5"/>
<polygon points="323.5,390.6 316,387.2 316,394" fill="#000"/>
</svg>
<div class="t" style="left:42.6px;top:51.5px;font-size:14.4px;line-height:16.75px;color:#111;">Strong magnetic<br>variations.<br>June 17-18 2018<br>Lofoten Norway<br>Polarlightcenter</div>
<div class="t" style="left:61px;top:173.3px;font-size:10.4px;line-height:12px;color:#111;">Pos.</div>
<div class="t" style="left:60.8px;top:184.8px;font-size:10.4px;line-height:12px;color:#111;">Neg.</div>
<div class="t" style="left:42.8px;top:269.7px;font-size:14.1px;line-height:16.9px;"><span style="color:#1010c4">Magnetic H component</span><br><span style="color:#2ee02e">Earth current N-S</span><br><span style="color:#cc1515">Magnetic D component</span></div>
<div class="t" style="left:253px;top:381.7px;font-size:12.6px;letter-spacing:-0.6px;line-height:15px;color:#111;">Kp7</div>
</body></html>
